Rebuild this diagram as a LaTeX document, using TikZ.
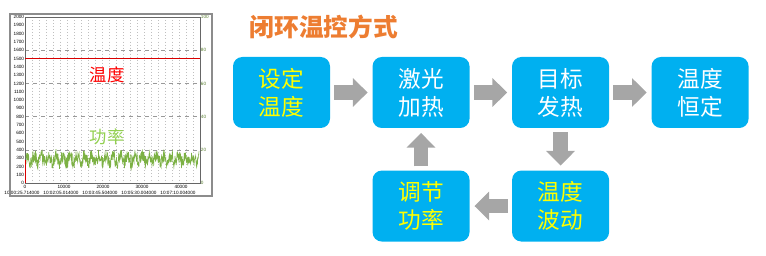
\documentclass[tikz,border=0pt]{standalone}
\usepackage{fontspec}
\setmainfont{Liberation Sans}
\newfontfamily\cjk{Noto Sans CJK SC}
\usetikzlibrary{arrows.meta,positioning}
\definecolor{Cyan}{HTML}{00B0F0}
\definecolor{Grey}{HTML}{A6A6A6}
\definecolor{Orange}{HTML}{ED7D31}
\definecolor{Yellow}{HTML}{FFFF00}
\definecolor{Lime}{HTML}{92D050}
\definecolor{Frame}{HTML}{8C8C8C}

\begin{document}
\begin{tikzpicture}[x=0.75pt,y=-0.75pt,
    block/.style={rectangle,rounded corners=7pt,fill=Cyan,minimum width=72.75pt,minimum height=53.25pt,inner sep=0pt,align=center,text=white,font=\cjk\fontsize{17}{21}\selectfont},
    hot/.style={text=Yellow},
    arrow/.style={-{Triangle[length=11pt,width=21pt]},line width=11pt,draw=Grey,shorten <=3pt,shorten >=3.5pt},
    ticklabel/.style={font=\fontsize{3.5}{3.5}\selectfont,inner sep=0.5pt}
]
\useasboundingbox (0,0) rectangle (766,256);

% chart
\fill[white] (10,14) rectangle (212,196);
\foreach \xx in {32,39,...,199} \draw[gray!50,dotted,line width=0.3pt] (\xx,17) -- (\xx,183);
\foreach \yy in {50.2,83.4,116.6,149.8} \draw[gray!80,dashed,line width=0.4pt] (25,\yy) -- (200,\yy);
\draw[gray!80!black,line width=0.5pt] (25,17) rectangle (200,183);
\foreach \v in {0,100,...,2000} \node[ticklabel,anchor=east] at (25,{183-\v*0.083}) {\v};
\foreach \v in {0,20,...,100} \node[ticklabel,anchor=west,text=Lime!60!black] at (200,{183-\v*1.66}) {\v};
\foreach \v/\xx in {0/25,10000/64,20000/103,30000/142,40000/181} \node[ticklabel] at (\xx,187) {\v};
\foreach \t/\xx in {10:00:25.714000/22,10:02:05.014000/61,10:03:45.504000/100,10:05:30.004000/139,10:07:10.004000/178} \node[ticklabel] at (\xx,192.5) {\t};
\draw[red!85!black,line width=0.8pt] (25,58.5) -- (200,58.5);
\pgfmathsetmacro{\seed}{7}
\pgfmathsetseed{7}
\draw[Lime!85!black,line width=0.45pt] plot[domain=26:199,samples=600] (\x,{159+6.5*rand+3.5*sin(\x*50)});
\draw[red!85!black,line width=0.5pt] (25.5,160) -- (25.5,183);
\node[text=red,font=\cjk\fontsize{13}{13}\selectfont] (tlabel) at (107,75) {温度};
\node[text=Lime,font=\cjk\fontsize{13}{13}\selectfont] (plabel) at (107,137) {功率};
\draw[Frame,line width=1.5pt] (10,14) rectangle (212,196);

% flow
\node[anchor=west,text=Orange,font=\cjk\bfseries\fontsize{18.5}{18.5}\selectfont] (title) at (245,27) {闭环温控方式};
\node[block,hot] (set) at (281.5,92.5) {设定\\温度};
\node[block,right=31.5pt of set] (heat) {激光\\加热};
\node[block,right=31.5pt of heat] (target) {目标\\发热};
\node[block,right=31.5pt of target] (steady) {温度\\恒定};
\node[block,hot,below=31.5pt of target] (fluct) {温度\\波动};
\node[block,hot,below=31.5pt of heat] (adjust) {调节\\功率};
\draw[arrow] (set) -- (heat);
\draw[arrow] (heat) -- (target);
\draw[arrow] (target) -- (steady);
\draw[arrow] (target) -- (fluct);
\draw[arrow] (fluct) -- (adjust);
\draw[arrow] (adjust) -- (heat);
\end{tikzpicture}
\end{document}
